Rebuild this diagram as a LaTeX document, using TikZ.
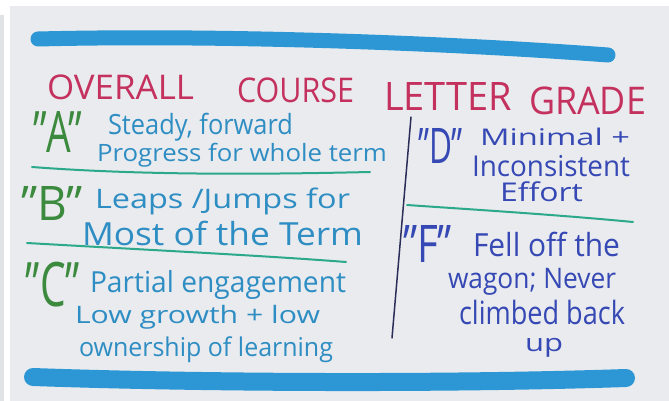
\documentclass[tikz,border=0pt]{standalone}
\usepackage{graphicx}
\usepackage{fontspec}
\setmainfont{Open Sans}
\definecolor{paper}{HTML}{E9EBEF}
\definecolor{stripgray}{HTML}{E0E2E6}
\definecolor{marker}{HTML}{2C97D4}
\definecolor{titlered}{HTML}{C4315E}
\definecolor{lettergreen}{HTML}{3C8A3E}
\definecolor{tealtext}{HTML}{2E8DC2}
\definecolor{rulegreen}{HTML}{2BA98A}
\definecolor{navy}{HTML}{2C2E5A}
\definecolor{blueink}{HTML}{3548B4}
\newcommand{\fb}[3]{\resizebox*{#1pt}{#2pt}{#3}}
\newcommand{\fl}[3]{\resizebox*{#1pt}{#2pt}{\vphantom{Hg}#3}}
\tikzset{
  hw/.style={anchor=north west, inner sep=0pt, outer sep=0pt},
  titletext/.style={hw, text=titlered},
  gradeletter/.style={hw, text=lettergreen},
  lefttext/.style={hw, text=tealtext},
  righttext/.style={hw, text=blueink},
  rightletter/.style={hw, text=blueink},
  thickmarker/.style={draw=marker, line cap=round},
  greenrule/.style={draw=rulegreen, line width=2pt, line cap=round},
  divider/.style={draw=navy, line width=1.5pt, line cap=round}
}
\begin{document}
\begin{tikzpicture}[x=1pt,y=-1pt]
\useasboundingbox (0,0) rectangle (669,401);
\fill[white] (0,0) rectangle (669,401);
\fill[stripgray] (0,15) rectangle (4,401);
\fill[paper] (10,6) rectangle (669,401);
% marker strokes
\draw[thickmarker, line width=15pt] (38,39) .. controls (200,35) and (420,41) .. (608,55);
\draw[thickmarker, line width=18pt] (33,377) .. controls (200,383) and (450,384) .. (626,378);
% title
\node[titletext] (t1) at (47,75) {\fb{147}{25}{OVERALL}};
\node[titletext] (t2) at (237,78) {\fb{117}{25}{COURSE}};
\node[titletext] (t3) at (384,83) {\fb{128}{28}{LETTER}};
\node[titletext] (t4) at (529,87) {\fb{117}{28}{GRADE}};
% A
\node[gradeletter] (ga) at (33,112) {\fb{49}{41}{"A"}};
\node[lefttext] (a1) at (108,113) {\fl{185}{28}{Steady, forward}};
\node[lefttext] (a2) at (97,143) {\fl{290}{24}{Progress for whole term}};
\draw[greenrule] (32,167) .. controls (150,176) and (280,174) .. (370,172);
% B
\node[gradeletter] (gb) at (21,186) {\fb{62}{34}{"B"}};
\node[lefttext] (b1) at (95,188) {\fl{255}{27}{Leaps /Jumps for}};
\node[lefttext] (b2) at (82,221) {\fl{281}{32}{Most of the Term}};
\draw[greenrule] (27,243) .. controls (150,250) and (270,256) .. (346,262);
% C
\node[gradeletter] (gc) at (26,262) {\fb{54}{45}{"C"}};
\node[lefttext] (c1) at (90,270) {\fl{256}{29}{Partial engagement}};
\node[lefttext] (c2) at (75,305) {\fl{245}{24}{Low growth + low}};
\node[lefttext] (c3) at (79,337) {\fl{254}{26}{ownership of learning}};
% divider
\coordinate (dtop) at (411,117);
\coordinate (dbot) at (392,338);
\draw[divider] (dtop) -- (dbot);
% D
\node[rightletter] (gd) at (418,128) {\fb{45}{35}{"D"}};
\node[righttext] (d1) at (480,128) {\fl{150}{23}{Minimal +}};
\node[righttext] (d2) at (472,155) {\fl{158}{28}{Inconsistent}};
\node[righttext] (d3) at (500,182) {\fl{83}{26}{Effort}};
\draw[greenrule] (407,205) .. controls (480,210) and (560,215) .. (633,222);
% F
\node[rightletter] (gf) at (403,225) {\fb{49}{37}{"F"}};
\node[righttext] (f1) at (473,232) {\fl{147}{32}{Fell off the}};
\node[righttext] (f2) at (448,268) {\fl{168}{27}{wagon; Never}};
\node[righttext] (f3) at (459,300) {\fl{166}{32}{climbed back}};
\node[righttext] (f4) at (525,338) {\fb{38}{19}{up}};
\end{tikzpicture}
\end{document}
